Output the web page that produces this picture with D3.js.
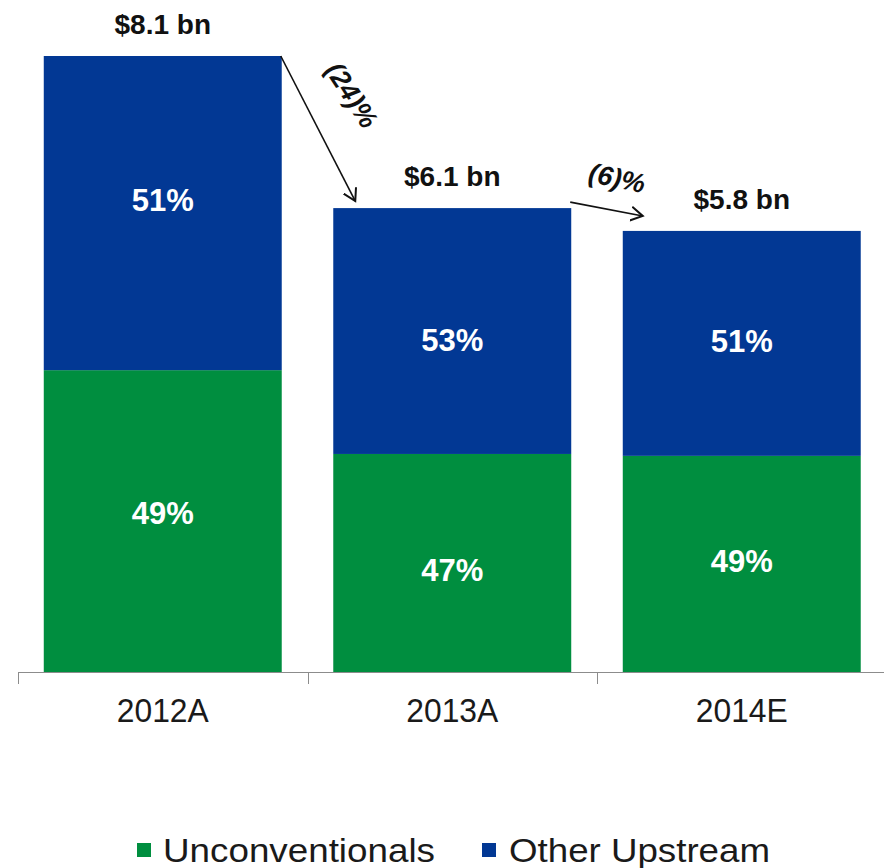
<!DOCTYPE html>
<html>
<head>
<meta charset="utf-8">
<script src="https://cdn.jsdelivr.net/npm/d3@7"></script>
<style>
  html, body { margin: 0; padding: 0; background: #fff; }
  svg { display: block; font-family: Arial, "Liberation Sans", sans-serif; }
</style>
</head>
<body>
<svg id="chart" width="884" height="868"></svg>
<script>
const categories = ["2012A", "2013A", "2014E"];
const totals = [8.1, 6.1, 5.8];
const totalLabels = ["$8.1 bn", "$6.1 bn", "$5.8 bn"];
const unconvPct = [49, 47, 49];
const otherPct = [51, 53, 51];
const changeLabels = ["(24)%", "(6)%"];
const seriesNames = ["Unconventionals", "Other Upstream"];
const colors = ["#008e3f", "#023894"];

// layout nudges for the in-bar labels (px, relative to segment centre)
const labelNudge = [[-8, -13], [7, 9], [-3, -2]];

const svg = d3.select("#chart");

const x = d3.scaleBand().domain(categories).range([18, 886.5])
  .paddingInner(0.178).paddingOuter(0.089);
const y = d3.scaleLinear().domain([0, 8.1]).range([672, 56]);

const data = categories.map((c, i) => ({
  cat: c,
  idx: i,
  total: totals[i],
  segs: [
    { key: 0, y0: 0, y1: totals[i] * unconvPct[i] / 100, pct: unconvPct[i] },
    { key: 1, y0: totals[i] * unconvPct[i] / 100, y1: totals[i], pct: otherPct[i] }
  ]
}));

const g = svg.append("g");
data.forEach(d => {
  d.segs.forEach(s => {
    g.append("rect")
      .attr("x", x(d.cat))
      .attr("y", y(s.y1))
      .attr("width", x.bandwidth())
      .attr("height", y(s.y0) - y(s.y1))
      .attr("fill", colors[s.key]);
  });
  d.segs.forEach(s => {
    g.append("text")
      .attr("x", x(d.cat) + x.bandwidth() / 2)
      .attr("y", (y(s.y0) + y(s.y1)) / 2 + 11 + labelNudge[d.idx][s.key])
      .attr("text-anchor", "middle")
      .attr("fill", "#fff")
      .attr("font-weight", "bold")
      .attr("font-size", 31)
      .text(s.pct + "%");
  });
  g.append("text")
    .attr("x", x(d.cat) + x.bandwidth() / 2)
    .attr("y", y(d.total) - 22)
    .attr("text-anchor", "middle")
    .attr("fill", "#111")
    .attr("font-weight", "bold")
    .attr("font-size", 28)
    .text(totalLabels[d.idx]);
});

// axis
const axisY = y(0);
svg.append("line")
  .attr("x1", 18).attr("x2", 884)
  .attr("y1", axisY + 0.5).attr("y2", axisY + 0.5)
  .attr("stroke", "#8c8c8c").attr("stroke-width", 1);
const boundaries = categories.map(c => x(c) - x.step() * 0.089);
boundaries.forEach(bx => {
  svg.append("line")
    .attr("x1", Math.round(bx) + 0.5).attr("x2", Math.round(bx) + 0.5)
    .attr("y1", axisY).attr("y2", axisY + 12)
    .attr("stroke", "#8c8c8c").attr("stroke-width", 1);
});
const xAxis = d3.axisBottom(x).tickSize(0).tickPadding(0);
const ax = svg.append("g").attr("transform", `translate(0,${axisY})`).call(xAxis);
ax.select(".domain").remove();
ax.selectAll("text")
  .attr("dy", 0).attr("y", 50)
  .attr("font-size", 33)
  .attr("font-family", "Arial, 'Liberation Sans', sans-serif")
  .attr("fill", "#1a1a1a")
  .attr("textLength", 92)
  .attr("lengthAdjust", "spacingAndGlyphs");

// arrows
const defs = svg.append("defs");
defs.append("marker")
  .attr("id", "arrow").attr("viewBox", "-12 -8 14 16")
  .attr("refX", 0).attr("refY", 0)
  .attr("markerWidth", 14).attr("markerHeight", 16)
  .attr("markerUnits", "userSpaceOnUse")
  .attr("orient", "auto")
  .append("path")
  .attr("d", "M-12,-7 L0,0 L-12,7")
  .attr("fill", "none").attr("stroke", "#111").attr("stroke-width", 2);

const arrowSpecs = [
  { from: 0, to: 1, dy0: 0, dx1: 22, dy1: -7, lx: 352, ly: 95, rot: 57 },
  { from: 1, to: 2, dy0: -6, dx1: 20, dy1: -15, lx: 617, ly: 178, rot: 12 }
];
arrowSpecs.forEach((a, i) => {
  const x0 = x(categories[a.from]) + x.bandwidth() - 1;
  const y0 = y(totals[a.from]) + a.dy0;
  const x1 = x(categories[a.to]) + a.dx1;
  const y1 = y(totals[a.to]) + a.dy1;
  svg.append("line")
    .attr("x1", x0).attr("y1", y0).attr("x2", x1).attr("y2", y1)
    .attr("stroke", "#111").attr("stroke-width", 1.6)
    .attr("marker-end", "url(#arrow)");
  svg.append("text")
    .attr("transform", `translate(${a.lx},${a.ly}) rotate(${a.rot})`)
    .attr("text-anchor", "middle")
    .attr("dy", "0.35em")
    .attr("font-weight", "bold")
    .attr("font-style", "italic")
    .attr("font-size", 27)
    .attr("fill", "#111")
    .text(changeLabels[i]);
});

// legend
const legendItems = [
  { sx: 137, tx: 163, w: 272 },
  { sx: 482, tx: 509, w: 261 }
];
legendItems.forEach((l, i) => {
  svg.append("rect")
    .attr("x", l.sx).attr("y", 843).attr("width", 14).attr("height", 14)
    .attr("fill", colors[i]);
  svg.append("text")
    .attr("x", l.tx).attr("y", 862)
    .attr("font-size", 33)
    .attr("fill", "#1a1a1a")
    .attr("textLength", l.w)
    .attr("lengthAdjust", "spacingAndGlyphs")
    .text(seriesNames[i]);
});
</script>
</body>
</html>
